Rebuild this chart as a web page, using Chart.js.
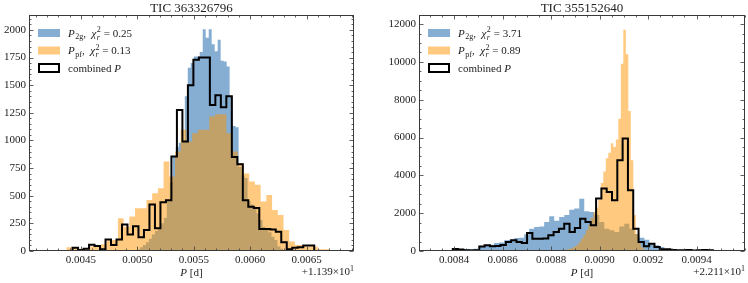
<!DOCTYPE html>
<html>
<head>
<meta charset="utf-8">
<script src="https://cdn.jsdelivr.net/npm/chart.js@4.4.0/dist/chart.umd.min.js"></script>
<style>
  html, body { margin: 0; padding: 0; background: #fff; }
  #wrap { position: relative; width: 748px; height: 283px; }
  .panel { position: absolute; top: 0; width: 374px; height: 283px; }
</style>
</head>
<body>
<div id="wrap">
  <div class="panel" style="left:0"><canvas id="left" width="374" height="283"></canvas></div>
  <div class="panel" style="left:374px"><canvas id="right" width="374" height="283"></canvas></div>
</div>
<script>
// --- TIC 363326796, x = P - 11.39 d ---
const leftTitle = 'TIC 363326796';
const leftChi = ['0.25', '0.13'];
const leftXTicks = [0.0045, 0.0050, 0.0055, 0.0060, 0.0065];
const leftYTicks = [0, 250, 500, 750, 1000, 1250, 1500, 1750, 2000];
const leftBlueStart = 0.00497, leftBlueWidth = 0.0000265;
const leftBlue = [5, 15, 35, 55, 80, 110, 150, 180, 210, 250,
  300, 450, 620, 850, 940, 980, 1000, 1400, 1658, 1700,
  1760, 1760, 1800, 2005, 1930, 2005, 1870, 1806, 1910, 1720,
  1715, 1670, 1400, 1130, 1120, 760, 680, 660, 450, 420,
  380, 340, 280, 220, 195, 170, 130, 100, 40, 20];
const leftOrangeStart = 0.00417, leftOrangeWidth = 0.0000506;
const leftOrange = [9, 5, 3, 10, 33, 30, 20, 25, 40, 45,
  60, 94, 100, 296, 220, 311, 386, 387, 462, 522,
  568, 810, 673, 900, 1096, 990, 1066, 1096, 1096, 1217,
  1238, 1238, 1066, 900, 795, 700, 628, 600, 447, 507,
  371, 326, 190, 85, 54, 54, 40, 40, 15, 15, 5];
const leftCombStart = 0.004426, leftCombWidth = 0.00004867;
const leftComb = [30, 10, 20, 57, 45, 15, 105, 55, 105, 240,
  150, 225, 125, 190, 420, 205, 440, 460, 855, 1275,
  990, 1500, 1730, 1750, 1750, 1320, 1410, 1300, 1400, 850,
  785, 460, 400, 390, 200, 200, 195, 175, 80, 15,
  30, 35, 50, 50];

// --- TIC 355152640, x = P - 22.11 d ---
const rightTitle = 'TIC 355152640';
const rightChi = ['3.71', '0.89'];
const rightXTicks = [0.0084, 0.0086, 0.0088, 0.0090, 0.0092, 0.0094];
const rightYTicks = [0, 2000, 4000, 6000, 8000, 10000, 12000];
const rightBlueStart = 0.008317, rightBlueWidth = 0.00002066;
const rightBlue = [10, 20, 30, 35, 70, 70, 106, 110, 120, 265,
  300, 335, 423, 450, 565, 600, 688, 700, 882, 1182,
  1270, 1300, 1535, 1834, 1600, 1800, 1900, 2187, 2250, 2769,
  2100, 2064, 1900, 1535, 1182, 1100, 1005, 1300, 1446, 1182,
  900, 700, 600, 400, 300, 212, 123, 60];
const rightOrangeStart = 0.0088294, rightOrangeWidth = 0.00001033;
const rightOrange = [30, 40, 60, 80, 110, 150, 220, 300, 450, 650,
  850, 1100, 1400, 1750, 2050, 2300, 2700, 3600, 4200, 4900,
  5200, 5700, 5500, 5900, 7000, 9900, 11700, 10400, 7400, 4800,
  1900, 900, 500, 200, 80];
const rightCombStart = 0.0083943, rightCombWidth = 0.0000219;
const rightComb = [100, 80, 35, 30, 40, 240, 300, 250, 260, 320,
  476, 565, 480, 420, 950, 650, 650, 660, 830, 1005,
  1182, 1446, 1005, 1217, 1711, 1535, 1358, 2770, 3300, 3122,
  2681, 4798, 5945, 3210, 1182, 476, 247, 388, 212, 88,
  88, 53, 40, 35, 53, 30, 40, 53, 40];

const SERIF = '"Liberation Serif", "DejaVu Serif", serif';
const BLUE = 'rgba(12, 93, 165, 0.5)';
const ORANGE = 'rgba(255, 149, 0, 0.5)';
const TEXT = '#222';

// histogram -> punti per una linea a gradini
function histPoints(start, width, counts, fromZero) {
  const pts = fromZero ? [{ x: start, y: 0 }] : [];
  counts.forEach((c, i) => pts.push({ x: start + i * width, y: c }));
  pts.push({ x: start + counts.length * width, y: 0 });
  return pts;
}

// testo con pedici / apici
function drawParts(ctx, x, y, parts) {
  let cx = x;
  parts.forEach(p => {
    const size = p.size || 11;
    ctx.font = (p.italic ? 'italic ' : '') + size + 'px ' + SERIF;
    ctx.fillText(p.t, cx, y + (p.dy || 0));
    if (!p.stack) cx += ctx.measureText(p.t).width + (p.gap || 0);
  });
  return cx - x;
}

function measureParts(ctx, parts) {
  let w = 0;
  parts.forEach(p => {
    ctx.font = (p.italic ? 'italic ' : '') + (p.size || 11) + 'px ' + SERIF;
    if (!p.stack) w += ctx.measureText(p.t).width + (p.gap || 0);
  });
  return w;
}

const decorPlugin = {
  id: 'decor',
  afterDraw(chart, args, opts) {
    const { ctx, chartArea: a, scales: { x, y } } = chart;
    ctx.save();

    // cornice
    ctx.strokeStyle = '#3a3a3a';
    ctx.lineWidth = 1;
    const L = Math.round(a.left) + 0.5, R = Math.round(a.right) - 0.5;
    const T = Math.round(a.top) + 0.5, B = Math.round(a.bottom) - 0.5;
    ctx.strokeRect(L, T, R - L, B - T);

    // tacche interne su tutti i lati
    ctx.lineWidth = 0.8;
    const xs = x.ticks.map(t => t.value);
    const xStep = xs[1] - xs[0];
    for (let v = xs[0] - xStep; v <= xs[xs.length - 1] + xStep + 1e-12; v += xStep / opts.xMinor) {
      if (v < x.min || v > x.max) continue;
      const px = Math.round(x.getPixelForValue(v)) + 0.5;
      const major = xs.some(m => Math.abs(m - v) < xStep / 100);
      const len = major ? 4 : 2;
      ctx.beginPath();
      ctx.moveTo(px, B); ctx.lineTo(px, B - len);
      ctx.moveTo(px, T); ctx.lineTo(px, T + len);
      ctx.stroke();
    }
    const ys = y.ticks.map(t => t.value);
    const yStep = ys[1] - ys[0];
    for (let v = 0; v <= y.max; v += yStep / opts.yMinor) {
      const py = Math.round(y.getPixelForValue(v)) + 0.5;
      const major = ys.some(m => Math.abs(m - v) < yStep / 100);
      const len = major ? 4 : 2;
      ctx.beginPath();
      ctx.moveTo(L, py); ctx.lineTo(L + len, py);
      ctx.moveTo(R, py); ctx.lineTo(R - len, py);
      ctx.stroke();
    }

    // legenda
    const lx = a.left + 9;
    const tx = a.left + 39;
    const rows = [a.top + 14, a.top + 31.5, a.top + 49];
    ctx.fillStyle = BLUE;
    ctx.fillRect(lx, rows[0], 22, 8);
    ctx.fillStyle = ORANGE;
    ctx.fillRect(lx, rows[1], 22, 8);
    ctx.fillStyle = '#fff';
    ctx.fillRect(lx, rows[2], 22, 8);
    ctx.strokeStyle = '#000';
    ctx.lineWidth = 2;
    ctx.strokeRect(lx + 1, rows[2], 20, 8);

    ctx.fillStyle = TEXT;
    ctx.textAlign = 'left';
    ctx.textBaseline = 'alphabetic';
    const chi = opts.chi;
    drawParts(ctx, tx, rows[0] + 7.5, [
      { t: 'P', italic: true, gap: 0.5 }, { t: '2g', size: 8, dy: 2.5 }, { t: ',  ' },
      { t: 'χ', italic: true, gap: 0.5 }, { t: '2', size: 8, dy: -4.5, stack: true }, { t: 'r', italic: true, size: 8, dy: 3, gap: 1 },
      { t: ' = ' + chi[0] }
    ]);
    drawParts(ctx, tx, rows[1] + 7.5, [
      { t: 'P', italic: true, gap: 0.5 }, { t: 'pf', size: 8, dy: 2.5 }, { t: ',  ' },
      { t: 'χ', italic: true, gap: 0.5 }, { t: '2', size: 8, dy: -4.5, stack: true }, { t: 'r', italic: true, size: 8, dy: 3, gap: 1 },
      { t: ' = ' + chi[1] }
    ]);
    drawParts(ctx, tx, rows[2] + 7.5, [{ t: 'combined ' }, { t: 'P', italic: true }]);

    // etichetta asse x
    const lab = [{ t: 'P', italic: true }, { t: ' [d]' }];
    const lw = measureParts(ctx, lab);
    drawParts(ctx, (a.left + a.right) / 2 - lw / 2, 276, lab);

    // offset
    const off = [{ t: opts.offset }, { t: '1', size: 8, dy: -4.5 }];
    const ow = measureParts(ctx, off);
    drawParts(ctx, a.right - ow, 275, off);

    ctx.restore();
  }
};

function makeChart(id, cfg) {
  const tickFont = { family: SERIF, size: 11 };
  return new Chart(document.getElementById(id), {
    type: 'line',
    data: {
      datasets: [
        { label: 'combined P', data: histPoints(cfg.comb[0], cfg.comb[1], cfg.comb[2], true),
          stepped: true, fill: false, borderColor: '#000', borderWidth: 2, pointRadius: 0 },
        { label: 'P_pf', data: histPoints(cfg.orange[0], cfg.orange[1], cfg.orange[2], false),
          stepped: true, fill: 'origin', backgroundColor: ORANGE, borderColor: 'rgba(0,0,0,0)', borderWidth: 0, pointRadius: 0 },
        { label: 'P_2g', data: histPoints(cfg.blue[0], cfg.blue[1], cfg.blue[2], false),
          stepped: true, fill: 'origin', backgroundColor: BLUE, borderColor: 'rgba(0,0,0,0)', borderWidth: 0, pointRadius: 0 }
      ]
    },
    options: {
      responsive: false,
      animation: false,
      layout: { padding: { left: 0, right: cfg.padRight, top: 0, bottom: 0 } },
      plugins: {
        legend: { display: false },
        tooltip: { enabled: false },
        title: {
          display: true, text: cfg.title, fullSize: false, color: TEXT,
          font: { family: SERIF, size: 13, weight: 'normal', lineHeight: 1 },
          padding: { top: 2, bottom: 0 }
        },
        decor: { xMinor: cfg.xMinor, yMinor: cfg.yMinor, chi: cfg.chi, offset: cfg.offset }
      },
      scales: {
        x: {
          type: 'linear', min: cfg.xMin, max: cfg.xMax,
          grid: { display: false, drawTicks: false }, border: { display: false },
          afterBuildTicks: s => { s.ticks = cfg.xTicks.map(v => ({ value: v })); },
          afterFit: s => { s.height = 32; },
          ticks: { padding: 3, maxRotation: 0, autoSkip: false, color: TEXT, font: tickFont,
            callback: v => Number(v).toFixed(4) }
        },
        y: {
          type: 'linear', min: 0, max: cfg.yMax,
          grid: { display: false, drawTicks: false }, border: { display: false },
          afterBuildTicks: s => { s.ticks = cfg.yTicks.map(v => ({ value: v })); },
          afterFit: s => { s.width = cfg.yWidth; },
          ticks: { padding: 3, autoSkip: false, color: TEXT, font: tickFont,
            callback: v => String(v) }
        }
      }
    },
    plugins: [decorPlugin]
  });
}

makeChart('left', {
  title: leftTitle, chi: leftChi, offset: '+1.139\u00d710',
  xMin: 0.00404, xMax: 0.00692, yMax: 2135, xTicks: leftXTicks, yTicks: leftYTicks,
  xMinor: 5, yMinor: 5, yWidth: 29, padRight: 20,
  blue: [leftBlueStart, leftBlueWidth, leftBlue],
  orange: [leftOrangeStart, leftOrangeWidth, leftOrange],
  comb: [leftCombStart, leftCombWidth, leftComb]
});

makeChart('right', {
  title: rightTitle, chi: rightChi, offset: '+2.211\u00d710',
  xMin: 0.008255, xMax: 0.0096, yMax: 12480, xTicks: rightXTicks, yTicks: rightYTicks,
  xMinor: 4, yMinor: 4, yWidth: 45, padRight: 3,
  blue: [rightBlueStart, rightBlueWidth, rightBlue],
  orange: [rightOrangeStart, rightOrangeWidth, rightOrange],
  comb: [rightCombStart, rightCombWidth, rightComb]
});
</script>
</body>
</html>
